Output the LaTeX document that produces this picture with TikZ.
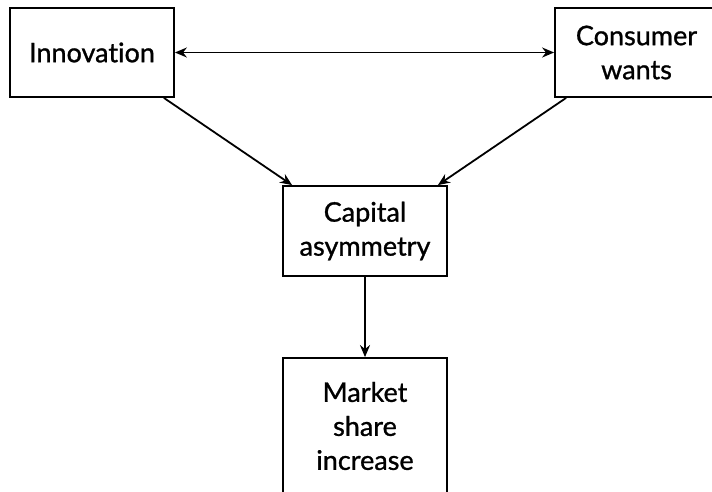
\documentclass[tikz,border=0pt]{standalone}
\usepackage{fontspec}
\setmainfont{Lato}[Ligatures={NoCommon}, FakeBold=1]
\usetikzlibrary{arrows.meta}
\begin{document}
\begin{tikzpicture}[x=1pt,y=-1pt,
  box/.style={draw, line width=1.8pt, minimum width=164pt, align=center,
    font=\fontsize{27}{34}\selectfont, inner sep=0pt, fill=white},
  conn/.style={line width=1.8pt, -{Stealth[length=12pt,width=10pt]}},
  dconn/.style={line width=1.8pt, {Stealth[length=12pt,width=10pt]}-{Stealth[length=12pt,width=10pt]}}]
\useasboundingbox (0,0) rectangle (712,491);
\clip (0,0) rectangle (712,491);
\fill[white] (0,0) rectangle (712,491);
\node[box, minimum height=89pt] (inn) at (92,52.5) {Innovation};
\node[box, minimum height=89pt, minimum width=163pt] (con) at (636.5,52.5) {Consumer\\wants};
\node[box, minimum height=90pt] (cap) at (365,231) {Capital\\asymmetry};
\node[box, minimum height=136pt] (mkt) at (365,426) {Market\\share\\increase};
\draw[dconn] (inn.east) -- (con.west);
\draw[conn] ([xshift=-11pt]inn.south east) -- ([xshift=10pt]cap.north west);
\draw[conn] ([xshift=12pt]con.south west) -- ([xshift=-10pt]cap.north east);
\draw[conn] (cap.south) -- (mkt.north);
\end{tikzpicture}
\end{document}
